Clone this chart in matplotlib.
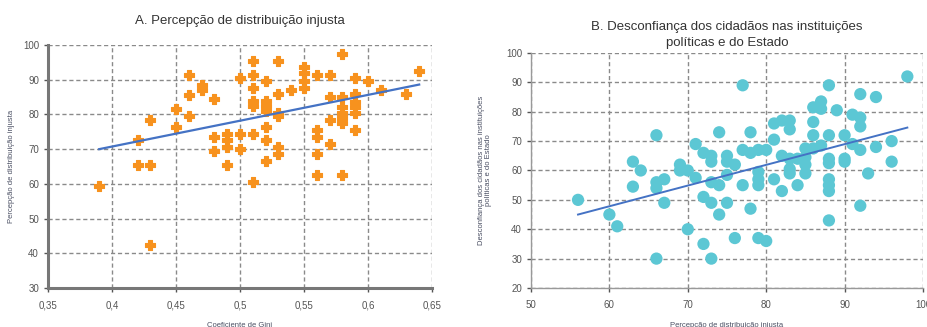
import numpy as np
import matplotlib
matplotlib.use("Agg")
import matplotlib.pyplot as plt

# Panel A: Gini coefficient vs perceived unfair distribution
gini = [0.39,
        0.42, 0.42,
        0.43, 0.43, 0.43,
        0.45, 0.45,
        0.46, 0.46, 0.46,
        0.47, 0.47,
        0.48, 0.48, 0.48,
        0.49, 0.49, 0.49, 0.49,
        0.50, 0.50, 0.50,
        0.51, 0.51, 0.51, 0.51, 0.51, 0.51, 0.51,
        0.52, 0.52, 0.52, 0.52, 0.52, 0.52, 0.52,
        0.53, 0.53, 0.53, 0.53, 0.53, 0.53,
        0.54,
        0.55, 0.55, 0.55, 0.55,
        0.56, 0.56, 0.56, 0.56, 0.56,
        0.57, 0.57, 0.57, 0.57,
        0.58, 0.58, 0.58, 0.58, 0.58, 0.58, 0.58,
        0.59, 0.59, 0.59, 0.59, 0.59, 0.59,
        0.60, 0.61, 0.63, 0.64]
perc_a = [59.5,
          72.5, 65.5,
          78.5, 65.5, 42.5,
          81.5, 76.5,
          91.5, 85.5, 79.5,
          88.5, 87.0,
          84.5, 73.5, 69.5,
          74.5, 72.5, 70.5, 65.5,
          90.5, 74.5, 70.0,
          95.5, 91.5, 87.5, 84.0, 82.5, 74.5, 60.5,
          89.5, 84.0, 82.5, 81.0, 76.5, 72.5, 66.5,
          95.5, 86.0, 80.5, 79.5, 70.5, 68.5,
          87.0,
          93.7, 92.0, 89.5, 87.5,
          91.5, 75.5, 73.5, 68.5, 62.5,
          91.5, 85.0, 78.5, 71.5,
          97.5, 85.0, 82.0, 80.5, 79.0, 77.5, 62.5,
          90.5, 86.0, 83.5, 82.0, 80.5, 75.5,
          89.5, 87.0, 86.0, 92.5]
trend_a_x = [0.39, 0.64]
trend_a_y = [70.0, 88.6]

# Panel B: perceived unfair distribution vs distrust in institutions
perc_b = [56, 60, 61, 63, 64, 63, 66, 66, 66, 67, 67, 66, 69, 69, 70, 71, 71,
          72, 73, 73, 72, 73, 74, 74, 73, 74, 70, 72, 73, 75, 75, 75, 75,
          77, 78, 77, 78, 79, 80, 76, 77, 79, 79, 79, 78, 76, 79, 80,
          81, 82, 83, 83, 81, 82, 83, 83, 83, 81, 82, 84, 84,
          85, 85, 85, 85, 86, 86, 86, 87, 87, 86, 87,
          88, 88, 88, 88, 88, 88, 88, 88, 89, 90, 90, 90,
          91, 92, 92, 91, 92, 92, 94, 94, 93, 92, 96, 96, 98]
distrust = [50, 45, 41, 63, 60, 54.5, 72, 56, 54, 57, 49, 30, 62, 60, 60, 69, 57.5,
            66, 65, 63, 51, 49, 73, 45, 56, 55, 40, 35, 30, 65, 63, 49, 58.5,
            89, 73, 67, 66, 67, 67, 62, 55, 59.5, 57, 55, 47, 37, 37, 36,
            76, 77, 77, 74, 70.5, 65, 64, 60.5, 59, 57, 53, 55, 64,
            67.5, 64.5, 62, 59, 81.5, 76.5, 72, 83.5, 81, 67.5, 68.5,
            89, 72, 64, 62.5, 57, 55, 53, 43, 80.5, 72, 64, 63,
            79, 78, 75, 69, 67, 86, 85, 68, 59, 48, 70, 63, 92]
trend_b_x = [56, 98]
trend_b_y = [45.0, 74.6]

ticks_a_x = [0.35, 0.4, 0.45, 0.5, 0.55, 0.6, 0.65]
ticks_a_lbl = ["0,35", "0,4", "0,45", "0,5", "0,55", "0,6", "0,65"]

plt.rcParams["font.family"] = ["Liberation Sans", "DejaVu Sans"]

orange = "#F7921E"
cyan = "#5CC7D4"
blue = "#4472C4"
grid_col = "#8a8a8a"
txt = "#333333"
lbl = "#4a4f63"

fig = plt.figure(figsize=(9.27, 3.27), dpi=100)
ax1 = fig.add_axes([0.0518, 0.1193, 0.4142, 0.7431])
ax2 = fig.add_axes([0.5728, 0.1193, 0.4229, 0.7187])

# clipped heading from the page above
fig.text(0.455, 1.035, "(em percentagem)", ha="center", va="center",
         fontsize=12, fontweight="bold", color=txt)

# ---- panel A
ax1.scatter(gini, perc_a, marker="P", s=62, color=orange, edgecolors=orange,
            linewidths=0.8, zorder=3)
ax1.plot(trend_a_x, trend_a_y, color=blue, lw=1.6, zorder=4)
ax1.set_xlim(0.35, 0.65)
ax1.set_ylim(30, 100)
ax1.set_xticks(ticks_a_x)
ax1.set_xticklabels(ticks_a_lbl)
ax1.set_yticks(range(30, 101, 10))
ax1.set_title("A. Percepção de distribuição injusta", fontsize=9.5, color=txt, pad=15)
ax1.set_xlabel("Coeficiente de Gini", fontsize=5.5, color=lbl, labelpad=8)
ax1.set_ylabel("Percepção de distribuição injusta", fontsize=5.5, color=lbl, labelpad=6)
for side in ["top", "right"]:
    ax1.spines[side].set_visible(False)
for side in ["left", "bottom"]:
    ax1.spines[side].set_color("#777777")
    ax1.spines[side].set_linewidth(2.2)

# ---- panel B
ax2.scatter(perc_b, distrust, marker="o", s=78, color=cyan, edgecolors="none", zorder=3)
ax2.plot(trend_b_x, trend_b_y, color=blue, lw=1.4, zorder=4)
ax2.set_xlim(50, 100)
ax2.set_ylim(20, 100)
ax2.set_xticks(range(50, 101, 10))
ax2.set_yticks(range(20, 101, 10))
ax2.set_title("B. Desconfiança dos cidadãos nas instituições\npolíticas e do Estado",
              fontsize=9.5, color=txt, pad=5, linespacing=1.45)
ax2.set_xlabel("Percepção de distribuição injusta", fontsize=5.5, color=lbl, labelpad=8)
ax2.set_ylabel("Desconfiança dos cidadãos nas instituições\npolíticas e do Estado",
               fontsize=5.5, color=lbl, labelpad=10, linespacing=1.0)
for side in ["top", "right"]:
    ax2.spines[side].set_visible(False)
for side in ["left", "bottom"]:
    ax2.spines[side].set_color("#999999")
    ax2.spines[side].set_linewidth(1.0)

for ax in (ax1, ax2):
    ax.grid(True, color=grid_col, linestyle=(0, (3, 2)), linewidth=1.0, zorder=0)
    ax.set_axisbelow(True)
    ax.tick_params(labelsize=7, colors="#555555", length=3, width=1)
    ax.tick_params(axis="x", pad=6)

fig.savefig("out.png", dpi=100, facecolor="white")
